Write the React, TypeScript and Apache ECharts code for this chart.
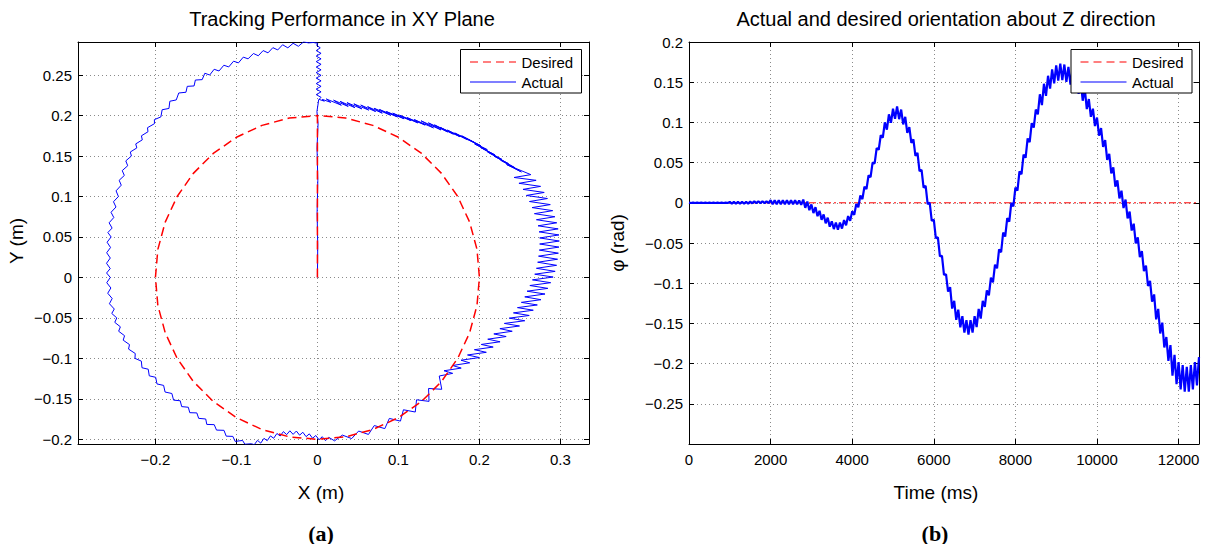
import React, { useEffect, useRef } from 'react';
import * as echarts from 'echarts';

const FONT = '"Liberation Sans", Arial, Helvetica, sans-serif';

// ---------- (a) XY plane ----------
const desiredXY: [number, number][] = [
  [0, 0], [0, 0.2],
  [0.0347, 0.197], [0.0684, 0.1879], [0.1, 0.1732], [0.1286, 0.1532], [0.1532, 0.1286], [0.1732, 0.1],
  [0.1879, 0.0684], [0.197, 0.0347], [0.2, 0], [0.197, -0.0347], [0.1879, -0.0684], [0.1732, -0.1],
  [0.1532, -0.1286], [0.1286, -0.1532], [0.1, -0.1732], [0.0684, -0.1879], [0.0347, -0.197], [0, -0.2],
  [-0.0347, -0.197], [-0.0684, -0.1879], [-0.1, -0.1732], [-0.1286, -0.1532], [-0.1532, -0.1286], [-0.1732, -0.1],
  [-0.1879, -0.0684], [-0.197, -0.0347], [-0.2, 0], [-0.197, 0.0347], [-0.1879, 0.0684], [-0.1732, 0.1],
  [-0.1532, 0.1286], [-0.1286, 0.1532], [-0.1, 0.1732], [-0.0684, 0.1879], [-0.0347, 0.197], [0, 0.2],
];

const actualXY: [number, number][] = [
  // climb along x = 0
  [0, 0], [0.0004, 0.04], [-0.0004, 0.08], [0.0005, 0.12], [-0.0005, 0.16], [0.0008, 0.19], [-0.0006, 0.205], [0.001, 0.2155], [0.0015, 0.2195],
  [0.0045, 0.2225], [-0.0015, 0.2259], [0.0045, 0.2293], [-0.0015, 0.2327], [0.0045, 0.2361], [-0.0015, 0.2395], [0.0045, 0.2429], [-0.0015, 0.2463],
  [0.0045, 0.2497], [-0.0015, 0.2531], [0.0045, 0.2565], [-0.0015, 0.2599], [0.0045, 0.2633], [-0.0015, 0.2667], [0.0045, 0.2701], [-0.0015, 0.2735],
  [0.0045, 0.2769], [-0.0015, 0.2803], [0.0035, 0.2837], [-0.001, 0.2868], [0.0005, 0.2893], [-0.005, 0.2903], [-0.011, 0.2898],
  // left arc, top
  [-0.017, 0.2911], [-0.0235, 0.2856], [-0.03, 0.2893], [-0.0365, 0.2837], [-0.043, 0.2875], [-0.049, 0.2811], [-0.055, 0.2839], [-0.061, 0.2775],
  [-0.067, 0.2803], [-0.073, 0.2739], [-0.079, 0.2767], [-0.0856, 0.2701], [-0.0915, 0.2722], [-0.0975, 0.2651], [-0.1035, 0.2672], [-0.1095, 0.2601],
  [-0.1155, 0.2622], [-0.1215, 0.2551], [-0.1275, 0.2572], [-0.133, 0.2501], [-0.139, 0.2523],
  [-0.1423, 0.2444], [-0.1507, 0.2439], [-0.1523, 0.2366], [-0.1607, 0.2361], [-0.1623, 0.2288], [-0.1712, 0.2279], [-0.1743, 0.2193], [-0.1822, 0.2177],
  [-0.1833, 0.2088], [-0.1917, 0.2072], [-0.1933, 0.1983],
  // left arc, side
  [-0.2013, 0.195], [-0.2012, 0.19], [-0.2098, 0.185], [-0.2092, 0.18], [-0.2173, 0.175], [-0.2162, 0.17], [-0.2243, 0.165], [-0.223, 0.16],
  [-0.231, 0.155], [-0.2297, 0.15], [-0.2366, 0.144], [-0.2342, 0.138], [-0.241, 0.132], [-0.2384, 0.126], [-0.2448, 0.12], [-0.2422, 0.114],
  [-0.2486, 0.107], [-0.2457, 0.1], [-0.2518, 0.0935], [-0.2487, 0.087], [-0.2548, 0.0805], [-0.2514, 0.074], [-0.2572, 0.0675], [-0.2535, 0.061],
  [-0.2587, 0.0555], [-0.2547, 0.05], [-0.2597, 0.0435], [-0.2554, 0.037], [-0.2602, 0.0305], [-0.2557, 0.024], [-0.2604, 0.0175], [-0.2558, 0.011],
  [-0.2603, 0.0055], [-0.2557, 0], [-0.2601, -0.0065], [-0.255, -0.013], [-0.2589, -0.0195], [-0.2534, -0.026], [-0.2568, -0.0325], [-0.2508, -0.039],
  [-0.2539, -0.0445], [-0.2477, -0.05], [-0.2502, -0.0555], [-0.2433, -0.061], [-0.2454, -0.0665], [-0.2381, -0.072], [-0.2398, -0.0775], [-0.232, -0.083],
  [-0.2332, -0.0885], [-0.2249, -0.094], [-0.2253, -0.1],
  // left arc, lower diagonal
  [-0.2174, -0.1034], [-0.2166, -0.1116], [-0.2089, -0.1134], [-0.2076, -0.1216], [-0.1997, -0.1234], [-0.1981, -0.1316], [-0.1899, -0.1334], [-0.1881, -0.1416],
  [-0.1797, -0.1434], [-0.1776, -0.1516], [-0.1694, -0.1524], [-0.1676, -0.1596], [-0.1594, -0.1604], [-0.1576, -0.1671], [-0.1489, -0.1674], [-0.1466, -0.1741],
  [-0.1379, -0.1749], [-0.1366, -0.1816], [-0.1274, -0.1819], [-0.1246, -0.1886], [-0.1154, -0.1889], [-0.1126, -0.1961], [-0.1044, -0.1964], [-0.1016, -0.2026],
  [-0.0924, -0.2014], [-0.0896, -0.2061], [-0.0815, -0.2055],
  // bottom (dense, thick-looking)
  [-0.078, -0.2067], [-0.074, -0.2013], [-0.07, -0.2047], [-0.066, -0.1988], [-0.062, -0.2017], [-0.058, -0.1958], [-0.054, -0.1987], [-0.05, -0.1928],
  [-0.046, -0.1959], [-0.042, -0.1905], [-0.038, -0.1942], [-0.034, -0.1895], [-0.03, -0.1939], [-0.026, -0.1898], [-0.022, -0.1949], [-0.018, -0.1913],
  [-0.014, -0.1967], [-0.01, -0.1933], [-0.006, -0.1987], [-0.002, -0.1953], [0.002, -0.2005], [0.006, -0.1968], [0.01, -0.2017], [0.014, -0.1976],
  // right arc along the circle
  [0.0212, -0.2019], [0.0308, -0.1948], [0.0423, -0.1991], [0.0509, -0.1898], [0.063, -0.194], [0.0702, -0.183], [0.0832, -0.1868], [0.0888, -0.1742],
  [0.1025, -0.1775], [0.1062, -0.1635], [0.1208, -0.1663], [0.1224, -0.1512], [0.1378, -0.1531], [0.1372, -0.1372], [0.1535, -0.1382], [0.1504, -0.1218],
  // right arc, side
  [0.167, -0.1185], [0.1563, -0.1153], [0.1775, -0.112], [0.1668, -0.1088], [0.188, -0.1055], [0.1773, -0.1023], [0.2, -0.099], [0.1853, -0.0958],
  [0.2085, -0.0925], [0.1938, -0.0893], [0.217, -0.086], [0.2023, -0.0828], [0.2255, -0.0795], [0.2103, -0.0763], [0.233, -0.073], [0.2178, -0.0698],
  [0.2405, -0.0665], [0.2253, -0.0633], [0.2495, -0.06], [0.2308, -0.0568], [0.256, -0.0535], [0.2368, -0.0503], [0.2615, -0.047], [0.242, -0.0438],
  [0.2665, -0.0405], [0.247, -0.0373], [0.2715, -0.034], [0.2518, -0.0308], [0.276, -0.0275], [0.256, -0.024], [0.281, -0.0205], [0.2588, -0.017],
  [0.2845, -0.0135], [0.2623, -0.01], [0.288, -0.0065], [0.2655, -0.003], [0.291, 0.0005], [0.2683, 0.004], [0.2935, 0.0075], [0.2704, 0.0113],
  [0.2953, 0.015], [0.2719, 0.0188], [0.2965, 0.0225], [0.273, 0.0263], [0.2975, 0.03], [0.2739, 0.0338], [0.2982, 0.0375], [0.2744, 0.0413],
  [0.2986, 0.045], [0.2744, 0.0488], [0.2982, 0.0525], [0.2737, 0.0563], [0.2972, 0.06], [0.2724, 0.0638], [0.2955, 0.0675], [0.2704, 0.0713],
  [0.2932, 0.075], [0.2679, 0.0788], [0.2905, 0.0825], [0.265, 0.0863], [0.2875, 0.09], [0.2618, 0.0938], [0.284, 0.0975], [0.258, 0.1013],
  [0.28, 0.105], [0.2538, 0.1088], [0.2755, 0.1125], [0.2488, 0.1163], [0.27, 0.12], [0.2428, 0.1235], [0.2635, 0.127],
  // right arc, top
  [0.2335, 0.1395], [0.2518, 0.1303], [0.226, 0.145], [0.244, 0.1355], [0.218, 0.15], [0.236, 0.1405], [0.21, 0.155], [0.2278, 0.1458],
  [0.2015, 0.1605], [0.2193, 0.1513], [0.194, 0.165], [0.2098, 0.1578], [0.1855, 0.1705], [0.2018, 0.1628], [0.178, 0.175], [0.1938, 0.1668],
  [0.1695, 0.1785], [0.185, 0.1703], [0.1605, 0.182], [0.176, 0.1738], [0.1515, 0.1855], [0.168, 0.177], [0.1445, 0.1885], [0.1608, 0.1798],
  [0.137, 0.191], [0.1525, 0.1823], [0.128, 0.1935], [0.1433, 0.1848], [0.1195, 0.195], [0.133, 0.1883], [0.1105, 0.1975], [0.124, 0.191],
  [0.1015, 0.2005], [0.1153, 0.1938], [0.093, 0.203], [0.107, 0.196], [0.085, 0.205], [0.0988, 0.1983], [0.0765, 0.2075], [0.0903, 0.2005],
  [0.07, 0.209], [0.08, 0.203], [0.062, 0.211], [0.0718, 0.205], [0.0535, 0.213], [0.0633, 0.2068], [0.045, 0.2145], [0.0548, 0.2083],
  [0.0365, 0.216], [0.0463, 0.2098], [0.028, 0.2175], [0.038, 0.2113], [0.02, 0.219], [0.0295, 0.2128], [0.011, 0.2205], [0.0165, 0.2163],
  [0.006, 0.22], [0.0085, 0.2178], [0.002, 0.22],
];

const xyXTickValues = [-0.2, -0.1, 0, 0.1, 0.2, 0.3];
const xyXTickLabels = ['\u22120.2', '\u22120.1', '0', '0.1', '0.2', '0.3'];
const xyYTickValues = [-0.2, -0.15, -0.1, -0.05, 0, 0.05, 0.1, 0.15, 0.2, 0.25];
const xyYTickLabels = ['\u22120.2', '\u22120.15', '\u22120.1', '\u22120.05', '0', '0.05', '0.1', '0.15', '0.2', '0.25'];

// ---------- (b) orientation ----------
const phiTime = [
  0, 50, 100, 150, 200, 250, 300, 350, 400, 450,
  500, 550, 600, 650, 700, 750, 800, 850, 900, 950,
  1000, 1050, 1100, 1150, 1200, 1250, 1300, 1350, 1400, 1450,
  1500, 1550, 1600, 1650, 1700, 1750, 1800, 1850, 1900, 1950,
  2000, 2050, 2100, 2150, 2200, 2250, 2300, 2350, 2400, 2450,
  2500, 2550, 2600, 2650, 2700, 2750, 2800, 2850, 2900, 2950,
  3000, 3050, 3100, 3150, 3200, 3250, 3300, 3350, 3400, 3450,
  3500, 3550, 3600, 3650, 3700, 3750, 3800, 3850, 3900, 3950,
  4000, 4050, 4100, 4150, 4200, 4250, 4300, 4350, 4400, 4450,
  4500, 4550, 4600, 4650, 4700, 4750, 4800, 4850, 4900, 4950,
  5000, 5050, 5100, 5150, 5200, 5250, 5300, 5350, 5400, 5450,
  5500, 5550, 5600, 5650, 5700, 5750, 5800, 5850, 5900, 5950,
  6000, 6050, 6100, 6150, 6200, 6250, 6300, 6350, 6400, 6450,
  6500, 6550, 6600, 6650, 6700, 6750, 6800, 6850, 6900, 6950,
  7000, 7050, 7100, 7150, 7200, 7250, 7300, 7350, 7400, 7450,
  7500, 7550, 7600, 7650, 7700, 7750, 7800, 7850, 7900, 7950,
  8000, 8050, 8100, 8150, 8200, 8250, 8300, 8350, 8400, 8450,
  8500, 8550, 8600, 8650, 8700, 8750, 8800, 8850, 8900, 8950,
  9000, 9050, 9100, 9150, 9200, 9250, 9300, 9350, 9400, 9450,
  9500, 9550, 9600, 9650, 9700, 9750, 9800, 9850, 9900, 9950,
  10000, 10050, 10100, 10150, 10200, 10250, 10300, 10350, 10400, 10450,
  10500, 10550, 10600, 10650, 10700, 10750, 10800, 10850, 10900, 10950,
  11000, 11050, 11100, 11150, 11200, 11250, 11300, 11350, 11400, 11450,
  11500, 11550, 11600, 11650, 11700, 11750, 11800, 11850, 11900, 11950,
  12000, 12050, 12100, 12150, 12200, 12250, 12300, 12350, 12400, 12450,
  12500,
];
const phiActual = [
  0.0003, -0.0003, 0.0003, -0.0003, 0.0003, -0.0003, 0.0003, -0.0003, 0.0003, -0.0003,
  0.0003, -0.0003, 0.0003, -0.0003, 0.0003, -0.0003, 0.0003, -0.0003, 0.0003, -0.0003,
  0.0012, -0.0012, 0.0012, -0.0012, 0.0012, -0.0012, 0.0012, -0.0012, 0.0012, -0.001,
  0.0015, -0.0007, 0.002, -0.0004, 0.002, -0.0004, 0.002, -0.0004, 0.002, -0.0004,
  0.0033, -0.0017, 0.0033, -0.0017, 0.0033, -0.0017, 0.0033, -0.0017, 0.0033, -0.0017,
  0.0033, -0.0017, 0.0033, -0.0019, 0.003, -0.0025, 0.004, -0.0062, 0.0015, -0.0092,
  -0.002, -0.0127, -0.0055, -0.0167, -0.01, -0.0212, -0.0145, -0.0255, -0.0185, -0.0297,
  -0.023, -0.0327, -0.0245, -0.0335, -0.0245, -0.032, -0.0215, -0.028, -0.0165, -0.0225,
  -0.0105, -0.015, -0.0015, -0.0055, 0.009, 0.0045, 0.02, 0.017, 0.034, 0.032,
  0.05, 0.049, 0.068, 0.066, 0.084, 0.081, 0.1, 0.091, 0.11, 0.0995,
  0.117, 0.1045, 0.12, 0.104, 0.116, 0.0975, 0.107, 0.087, 0.094, 0.0745,
  0.079, 0.0585, 0.062, 0.0395, 0.041, 0.019, 0.021, -0.0015, 0, -0.0225,
  -0.021, -0.044, -0.043, -0.0665, -0.066, -0.0895, -0.089, -0.1105, -0.105, -0.1315,
  -0.122, -0.1455, -0.133, -0.155, -0.141, -0.1615, -0.146, -0.164, -0.146, -0.1615,
  -0.141, -0.1545, -0.132, -0.144, -0.122, -0.1295, -0.109, -0.115, -0.093, -0.099,
  -0.077, -0.0815, -0.058, -0.0615, -0.037, -0.042, -0.019, -0.0235, 0, -0.0045,
  0.019, 0.015, 0.039, 0.0355, 0.06, 0.056, 0.08, 0.0755, 0.099, 0.0935,
  0.116, 0.11, 0.135, 0.1215, 0.148, 0.133, 0.158, 0.142, 0.166, 0.1485,
  0.171, 0.152, 0.173, 0.1525, 0.172, 0.1505, 0.169, 0.147, 0.165, 0.142,
  0.159, 0.1355, 0.152, 0.127, 0.142, 0.1165, 0.129, 0.107, 0.117, 0.0955,
  0.106, 0.0835, 0.093, 0.0695, 0.078, 0.0535, 0.061, 0.0365, 0.044, 0.02,
  0.028, 0.0055, 0.015, -0.0065, 0.004, -0.0195, -0.011, -0.0345, -0.026, -0.0505,
  -0.043, -0.0675, -0.06, -0.085, -0.078, -0.1035, -0.097, -0.123, -0.114, -0.145,
  -0.132, -0.1625, -0.149, -0.18, -0.167, -0.1965, -0.177, -0.215, -0.189, -0.2255,
  -0.198, -0.232, -0.202, -0.235, -0.204, -0.235, -0.202, -0.232, -0.198, -0.227,
  -0.192,
];
const phiDesiredTime = [0, 12500];
const phiDesired = [0, 0];

const tTickValues = [0, 2000, 4000, 6000, 8000, 10000, 12000];
const tTickLabels = ['0', '2000', '4000', '6000', '8000', '10000', '12000'];
const phiTickValues = [-0.25, -0.2, -0.15, -0.1, -0.05, 0, 0.05, 0.1, 0.15, 0.2];
const phiTickLabels = ['\u22120.25', '\u22120.2', '\u22120.15', '\u22120.1', '\u22120.05', '0', '0.05', '0.1', '0.15', '0.2'];

const legendNames = ['Desired', 'Actual'];

const fmt = (vals: number[], labels: string[]) => (v: number) => {
  const i = vals.findIndex((t) => Math.abs(t - v) < 1e-7);
  return i >= 0 ? labels[i] : '';
};

const gridLine = { show: true, lineStyle: { color: '#8a8a8a', type: [1, 3], width: 1 } };
const axisLine = { show: true, onZero: false, lineStyle: { color: '#000', width: 1 } };
const tick = { show: true, inside: true, length: 5, lineStyle: { color: '#000', width: 1 } };
const labelBase = { color: '#000', fontSize: 15, fontFamily: FONT };

export default function App() {
  const ref = useRef<HTMLDivElement>(null);
  useEffect(() => {
    if (!ref.current) return;
    const chart = echarts.init(ref.current, undefined, { renderer: 'svg' });
    const textEl = (text: string, x: number, y: number, size: number, extra: any = {}) => ({
      type: 'text',
      x,
      y,
      ...extra,
      style: {
        text,
        fontSize: size,
        fontFamily: FONT,
        fill: '#000',
        align: 'center',
        verticalAlign: 'middle',
        textAlign: 'center',
        textVerticalAlign: 'middle',
        ...(extra.style || {}),
      },
    });
    const legendBox = (left: number, top: number) => [
      {
        type: 'rect', z: 100,
        shape: { x: left, y: top, width: 121, height: 43.5 },
        style: { fill: '#fff', stroke: '#000', lineWidth: 1 },
      },
      {
        type: 'line', z: 101,
        shape: { x1: left + 9.5, y1: top + 12.5, x2: left + 55.5, y2: top + 12.5 },
        style: { stroke: '#ff0000', lineWidth: 1.2, lineDash: [8, 5] },
      },
      {
        type: 'line', z: 101,
        shape: { x1: left + 9.5, y1: top + 32.5, x2: left + 55.5, y2: top + 32.5 },
        style: { stroke: '#0000ff', lineWidth: 1.2 },
      },
      textEl(legendNames[0], left + 61, top + 12.5, 15, { z: 101, style: { align: 'left', textAlign: 'left' } }),
      textEl(legendNames[1], left + 61, top + 32.5, 15, { z: 101, style: { align: 'left', textAlign: 'left' } }),
    ];
    chart.setOption({
      animation: false,
      backgroundColor: '#fff',
      grid: [
        { left: 78, top: 42, width: 511, height: 402, containLabel: false },
        { left: 689, top: 42, width: 510, height: 402, containLabel: false },
      ],
      xAxis: [
        {
          gridIndex: 0, type: 'value', position: 'bottom', min: -0.2956, max: 0.3353, splitNumber: 5,
          axisLine, axisTick: tick, splitLine: gridLine,
          axisLabel: { ...labelBase, margin: 8, formatter: fmt(xyXTickValues, xyXTickLabels) },
        },
        {
          gridIndex: 0, type: 'value', position: 'top', min: -0.2956, max: 0.3353, splitNumber: 5,
          axisLine, axisTick: tick, splitLine: { show: false }, axisLabel: { show: false },
        },
        {
          gridIndex: 1, type: 'value', position: 'bottom', min: 0, max: 12500, interval: 2000,
          axisLine, axisTick: tick, splitLine: gridLine,
          axisLabel: { ...labelBase, margin: 8, formatter: fmt(tTickValues, tTickLabels) },
        },
        {
          gridIndex: 1, type: 'value', position: 'top', min: 0, max: 12500, interval: 2000,
          axisLine, axisTick: tick, splitLine: { show: false }, axisLabel: { show: false },
        },
      ],
      yAxis: [
        {
          gridIndex: 0, type: 'value', position: 'left', min: -0.2058, max: 0.2909, splitNumber: 10,
          axisLine, axisTick: tick, splitLine: gridLine,
          axisLabel: { ...labelBase, margin: 6, formatter: fmt(xyYTickValues, xyYTickLabels) },
        },
        {
          gridIndex: 0, type: 'value', position: 'right', min: -0.2058, max: 0.2909, splitNumber: 10,
          axisLine, axisTick: tick, splitLine: { show: false }, axisLabel: { show: false },
        },
        {
          gridIndex: 1, type: 'value', position: 'left', min: -0.3, max: 0.2, interval: 0.05,
          axisLine, axisTick: tick, splitLine: gridLine,
          axisLabel: { ...labelBase, margin: 6, formatter: fmt(phiTickValues, phiTickLabels) },
        },
        {
          gridIndex: 1, type: 'value', position: 'right', min: -0.3, max: 0.2, interval: 0.05,
          axisLine, axisTick: tick, splitLine: { show: false }, axisLabel: { show: false },
        },
      ],
      series: [
        {
          name: 'Actual', type: 'line', xAxisIndex: 0, yAxisIndex: 0, data: actualXY,
          symbol: 'none', showSymbol: false, z: 2,
          lineStyle: { color: '#0000ff', width: 1 }, itemStyle: { color: '#0000ff' },
        },
        {
          name: 'Desired', type: 'line', xAxisIndex: 0, yAxisIndex: 0, data: desiredXY,
          symbol: 'none', showSymbol: false, z: 3,
          lineStyle: { color: '#ff0000', width: 1.5, type: [9, 5] }, itemStyle: { color: '#ff0000' },
        },
        {
          name: 'Desired', type: 'line', xAxisIndex: 2, yAxisIndex: 2,
          data: phiDesiredTime.map((t, i) => [t, phiDesired[i]]),
          symbol: 'none', showSymbol: false, z: 2,
          lineStyle: { color: '#ff0000', width: 1, type: [7, 3, 2, 3] }, itemStyle: { color: '#ff0000' },
        },
        {
          name: 'Actual', type: 'line', xAxisIndex: 2, yAxisIndex: 2,
          data: phiTime.map((t, i) => [t, phiActual[i]]),
          symbol: 'none', showSymbol: false, z: 3,
          lineStyle: { color: '#0000ff', width: 2.2 }, itemStyle: { color: '#0000ff' },
        },
      ],
      graphic: [
        textEl('Tracking Performance in XY Plane', 342, 19, 20),
        textEl('Actual and desired orientation about Z direction', 946, 19, 20),
        textEl('X (m)', 321, 492, 19),
        textEl('Time (ms)', 936, 492, 19),
        textEl('Y (m)', 16, 241, 19, { rotation: Math.PI / 2 }),
        textEl('\u03c6 (rad)', 617, 243, 19, { rotation: Math.PI / 2 }),
        textEl('(a)', 321, 533, 22, { style: { fontFamily: '"Liberation Serif", "Times New Roman", serif', fontWeight: 'bold' } }),
        textEl('(b)', 935, 533, 22, { style: { fontFamily: '"Liberation Serif", "Times New Roman", serif', fontWeight: 'bold' } }),
        ...legendBox(460.5, 49.5),
        ...legendBox(1071, 49.5),
      ],
    });
    return () => chart.dispose();
  }, []);
  return (
    <div
      ref={ref}
      style={{ position: 'fixed', left: 0, top: 0, width: 1207, height: 544, background: '#fff' }}
    />
  );
}
